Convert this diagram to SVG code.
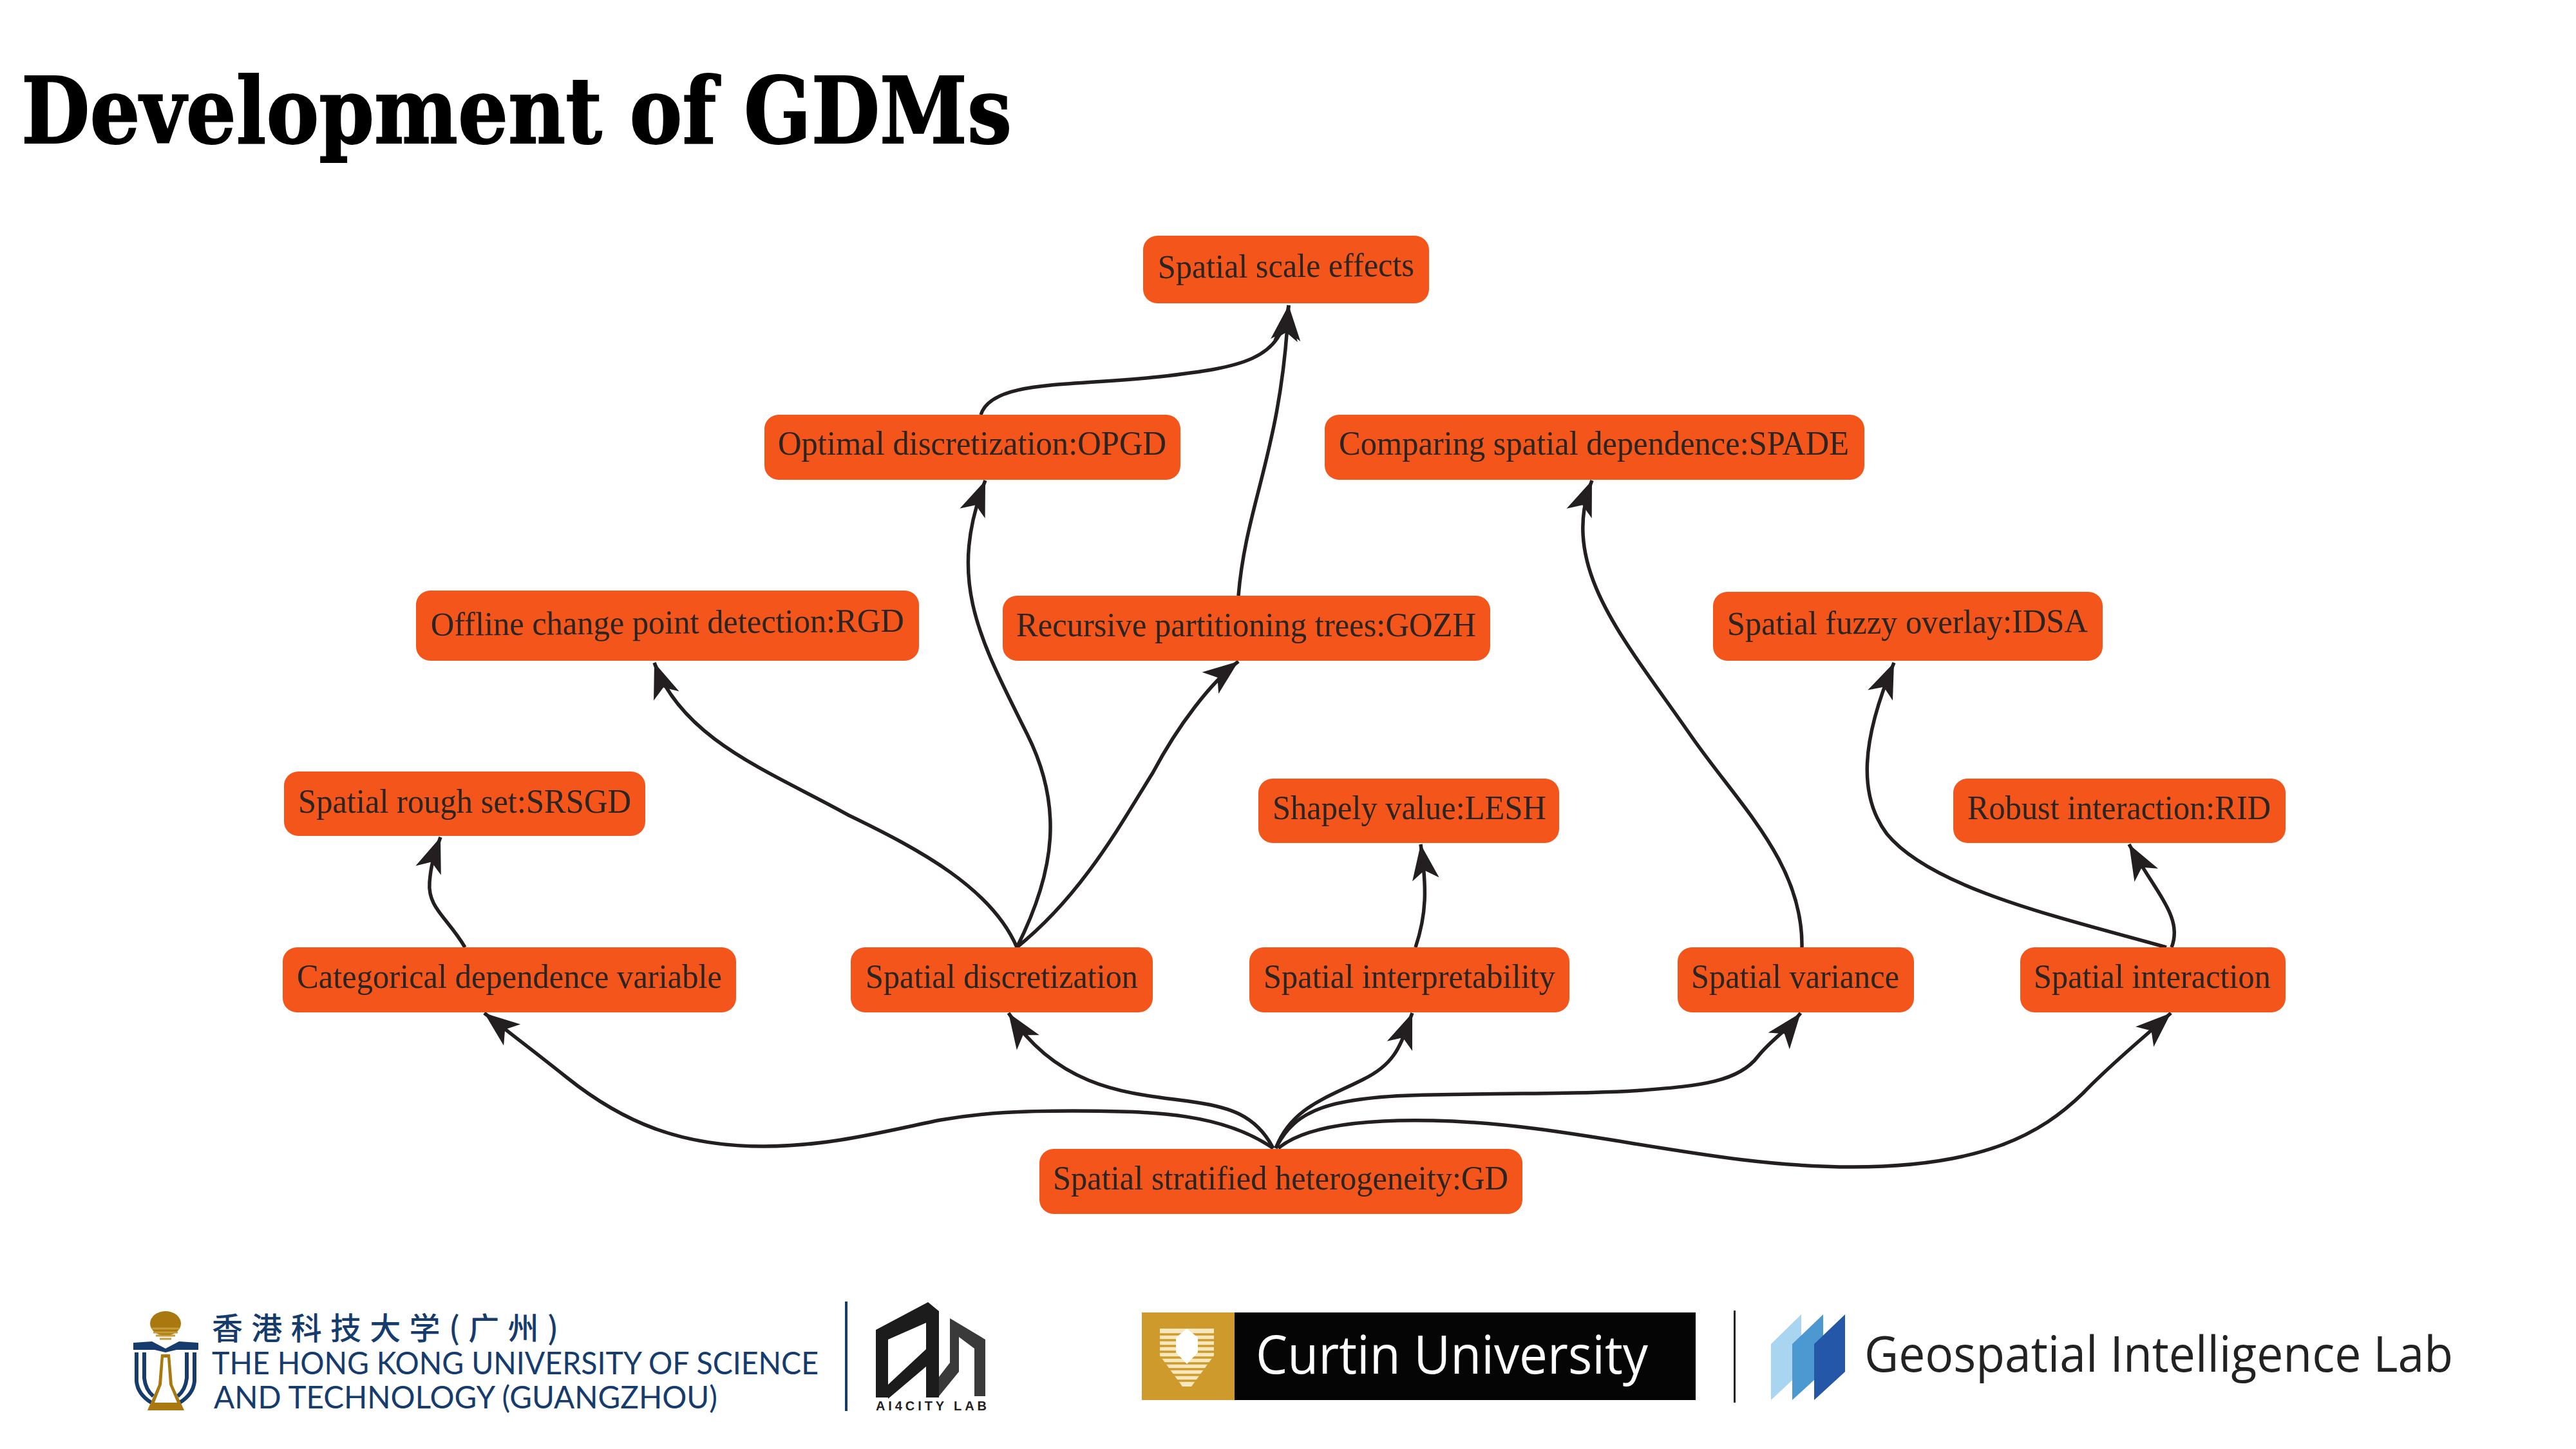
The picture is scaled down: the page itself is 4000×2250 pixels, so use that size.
<svg xmlns="http://www.w3.org/2000/svg" width="4000" height="2250" viewBox="0 0 4000 2250">
<defs>
<marker id="ah" markerUnits="userSpaceOnUse" markerWidth="60" markerHeight="48" refX="55" refY="21" orient="auto" overflow="visible"><path d="M55,21 L0,0 L14,21 L0,42 Z" fill="#231f20"/></marker>
</defs>
<style>
.n{fill:#f4551b}
.t{font-family:"Liberation Serif","Times New Roman",serif;font-size:52px;fill:#2a2522}
.e{fill:none;stroke:#231f20;stroke-width:5.5;marker-end:url(#ah)}
.hk{font-family:"Lato","Noto Sans",sans-serif;font-size:48px;fill:#163c6e}
</style>
<rect width="4000" height="2250" fill="#fff"/>
<text x="33" y="222" font-family="'DejaVu Serif',serif" font-weight="700" font-size="142" fill="#000" stroke="#000" stroke-width="2" textLength="1538" lengthAdjust="spacingAndGlyphs">Development of GDMs</text>
<g id="connectors">
<path class="e" d="M722,1471 C695,1425 664,1410 667,1370 C669,1345 673,1330 684,1300"/>
<path class="e" d="M1977,1783 C1900,1730 1800,1725 1665,1725 C1590,1725 1530,1727 1461,1739 C1380,1755 1290,1780 1186,1780 C1060,1780 970,1745 880,1673 C830,1633 790,1603 752,1573"/>
<path class="e" d="M1977,1783 C1950,1730 1905,1719 1859,1712 C1770,1698 1650,1700 1566,1573"/>
<path class="e" d="M1981,1783 C2005,1720 2060,1705 2117,1676 C2170,1650 2175,1620 2193,1573"/>
<path class="e" d="M1981,1783 C2010,1725 2060,1702 2225,1700 C2400,1697 2480,1698 2550,1693 C2640,1686 2700,1680 2730,1640 C2750,1615 2775,1600 2796,1573"/>
<path class="e" d="M1985,1783 C2030,1745 2130,1738 2225,1740 C2450,1745 2650,1812 2876,1812 C3080,1812 3170,1760 3234,1698 C3280,1650 3330,1610 3371,1573"/>
<path class="e" d="M2198,1471 C2215,1420 2216,1380 2206,1311"/>
<path class="e" d="M2798,1471 C2800,1340 2700,1250 2624,1140 C2520,990 2420,880 2472,746"/>
<path class="e" d="M3364,1471 C3200,1425 3000,1380 2930,1295 C2885,1235 2890,1150 2941,1029"/>
<path class="e" d="M3372,1471 C3390,1425 3350,1390 3306,1311"/>
<path class="e" d="M1579,1471 C1540,1380 1430,1320 1318,1266 C1200,1200 1060,1150 1016,1029"/>
<path class="e" d="M1579,1471 C1640,1350 1650,1250 1595,1140 C1520,990 1470,900 1530,746"/>
<path class="e" d="M1579,1471 C1680,1390 1740,1280 1790,1200 C1830,1125 1880,1060 1923,1027"/>
<path class="e" d="M1523,644 C1540,590 1660,600 1800,585 C1930,570 1990,560 2001,474"/>
<path class="e" d="M1923,925 C1935,780 1990,700 2001,474"/>
</g>
<g id="n-scale"><rect class="n" x="1775" y="366" width="444" height="105" rx="22"/><text class="t" x="1798" y="432" textLength="398" lengthAdjust="spacingAndGlyphs" transform="rotate(-0.5 1798 432)">Spatial scale effects</text></g>
<g id="n-opgd"><rect class="n" x="1187" y="644" width="646" height="101" rx="22"/><text class="t" x="1208" y="706" textLength="603" lengthAdjust="spacingAndGlyphs">Optimal discretization:OPGD</text></g>
<g id="n-spade"><rect class="n" x="2057" y="644" width="838" height="101" rx="22"/><text class="t" x="2079" y="706" textLength="792" lengthAdjust="spacingAndGlyphs">Comparing spatial dependence:SPADE</text></g>
<g id="n-rgd"><rect class="n" x="646" y="917" width="781" height="109" rx="22"/><text class="t" x="669" y="987" textLength="735" lengthAdjust="spacingAndGlyphs" transform="rotate(-0.5 669 987)">Offline change point detection:RGD</text></g>
<g id="n-gozh"><rect class="n" x="1557" y="925" width="757" height="101" rx="22"/><text class="t" x="1578" y="988" textLength="714" lengthAdjust="spacingAndGlyphs">Recursive partitioning trees:GOZH</text></g>
<g id="n-idsa"><rect class="n" x="2660" y="919" width="605" height="107" rx="22"/><text class="t" x="2682" y="986" textLength="560" lengthAdjust="spacingAndGlyphs" transform="rotate(-0.5 2682 986)">Spatial fuzzy overlay:IDSA</text></g>
<g id="n-srsgd"><rect class="n" x="441" y="1198" width="561" height="100" rx="22"/><text class="t" x="463" y="1262" textLength="517" lengthAdjust="spacingAndGlyphs">Spatial rough set:SRSGD</text></g>
<g id="n-lesh"><rect class="n" x="1954" y="1209" width="467" height="100" rx="22"/><text class="t" x="1976" y="1272" textLength="425" lengthAdjust="spacingAndGlyphs">Shapely value:LESH</text></g>
<g id="n-rid"><rect class="n" x="3033" y="1209" width="516" height="100" rx="22"/><text class="t" x="3055" y="1272" textLength="471" lengthAdjust="spacingAndGlyphs">Robust interaction:RID</text></g>
<g id="n-cat"><rect class="n" x="439" y="1471" width="704" height="101" rx="22"/><text class="t" x="461" y="1534" textLength="660" lengthAdjust="spacingAndGlyphs">Categorical dependence variable</text></g>
<g id="n-disc"><rect class="n" x="1321" y="1471" width="469" height="101" rx="22"/><text class="t" x="1344" y="1534" textLength="423" lengthAdjust="spacingAndGlyphs">Spatial discretization</text></g>
<g id="n-interp"><rect class="n" x="1940" y="1471" width="497" height="101" rx="22"/><text class="t" x="1962" y="1534" textLength="453" lengthAdjust="spacingAndGlyphs">Spatial interpretability</text></g>
<g id="n-var"><rect class="n" x="2605" y="1471" width="367" height="101" rx="22"/><text class="t" x="2626" y="1534" textLength="323" lengthAdjust="spacingAndGlyphs">Spatial variance</text></g>
<g id="n-inter"><rect class="n" x="3137" y="1471" width="412" height="101" rx="22"/><text class="t" x="3158" y="1534" textLength="368" lengthAdjust="spacingAndGlyphs">Spatial interaction</text></g>
<g id="n-gd"><rect class="n" x="1614" y="1784" width="750" height="101" rx="22"/><text class="t" x="1635" y="1847" textLength="707" lengthAdjust="spacingAndGlyphs">Spatial stratified heterogeneity:GD</text></g>
<g id="logo-hkust">
<ellipse cx="257" cy="2055" rx="24" ry="19" fill="#a9780f"/>
<path d="M236,2063 H278 M238,2069 H276 M242,2074 H272 M248,2079 H266" stroke="#c79b3a" stroke-width="3" fill="none"/>
<path d="M207,2085 L236,2083 L257,2094 L278,2083 L308,2085 V2096 H274 L257,2100 L240,2096 H207 Z" fill="#163c6e"/>
<path d="M212,2100 V2145 Q214,2165 235,2178 M224,2100 V2140 Q226,2158 238,2168 M302,2100 V2145 Q300,2165 279,2178 M290,2100 V2140 Q288,2158 276,2168" fill="none" stroke="#163c6e" stroke-width="6"/>
<path d="M250,2103 H264 L268,2150 L286,2190 H229 L246,2150 Z M254,2108 L251,2150 L240,2178 H275 L263,2150 L260,2108 Z" fill="#a9780f" fill-rule="evenodd"/>
<rect x="236" y="2178" width="43" height="12" fill="#a9780f"/>
<text x="329" y="2080" font-family="'Noto Sans CJK SC',sans-serif" font-weight="500" font-size="48" fill="#163c6e" textLength="538" lengthAdjust="spacing">香港科技大学(广州)</text>
<text class="hk" x="329" y="2134" textLength="942" lengthAdjust="spacingAndGlyphs">THE HONG KONG UNIVERSITY OF SCIENCE</text>
<text class="hk" x="332" y="2187" textLength="782" lengthAdjust="spacingAndGlyphs">AND TECHNOLOGY (GUANGZHOU)</text>
<rect x="1312" y="2021" width="4" height="170" fill="#163c6e"/>
</g>
<g id="logo-ai4city">
<path d="M1360,2170 V2065 L1441,2022 L1458,2036 V2170 H1438 V2054 L1379,2080 V2170 Z" fill="#1c1c1c"/>
<path d="M1379,2150 L1438,2095 V2122 L1379,2172 Z" fill="#1c1c1c"/>
<path d="M1475,2047 L1530,2080 V2168 H1513 V2094 L1489,2076 V2130 L1458,2168 V2138 L1475,2116 Z" fill="#3a3a3a"/>
<text x="1360" y="2190" font-family="'Liberation Sans',sans-serif" font-weight="700" font-size="20" fill="#222" textLength="172">AI4CITY LAB</text>
</g>
<g id="logo-curtin">
<rect x="1773" y="2038" width="144" height="136" fill="#cf9a2c"/>
<rect x="1917" y="2038" width="716" height="136" fill="#050505"/>
<path d="M1801,2063 H1885 V2105 L1850,2153 H1836 L1801,2105 Z" fill="#f6e7bd"/>
<path d="M1801,2072 H1885 M1801,2081 H1885 M1801,2090 H1885 M1801,2099 H1885 M1801,2108 H1885 M1801,2117 H1885 M1801,2126 H1885 M1801,2135 H1885 M1801,2144 H1885" stroke="#cf9a2c" stroke-width="3.5"/>
<path d="M1843,2063 L1860,2077 V2100 L1843,2118 L1826,2100 V2077 Z" fill="#fff"/>
<text x="1950" y="2133" font-family="'Open Sans','Noto Sans',sans-serif" font-size="82" fill="#fff" textLength="609" lengthAdjust="spacingAndGlyphs">Curtin University</text>
</g>
<g id="logo-geo">
<rect x="2692" y="2035" width="3" height="143" fill="#222"/>
<path d="M2750,2087 L2797,2041 V2130 L2750,2174 Z" fill="#a9d5f0"/>
<path d="M2783,2087 L2831,2041 V2130 L2783,2174 Z" fill="#4c99d2"/>
<path d="M2817,2087 L2865,2041 V2130 L2817,2174 Z" fill="#2457a8"/>
<text x="2895" y="2130" font-family="'Open Sans','Noto Sans',sans-serif" font-size="76" fill="#222" textLength="914" lengthAdjust="spacingAndGlyphs">Geospatial Intelligence Lab</text>
</g>
</svg>
